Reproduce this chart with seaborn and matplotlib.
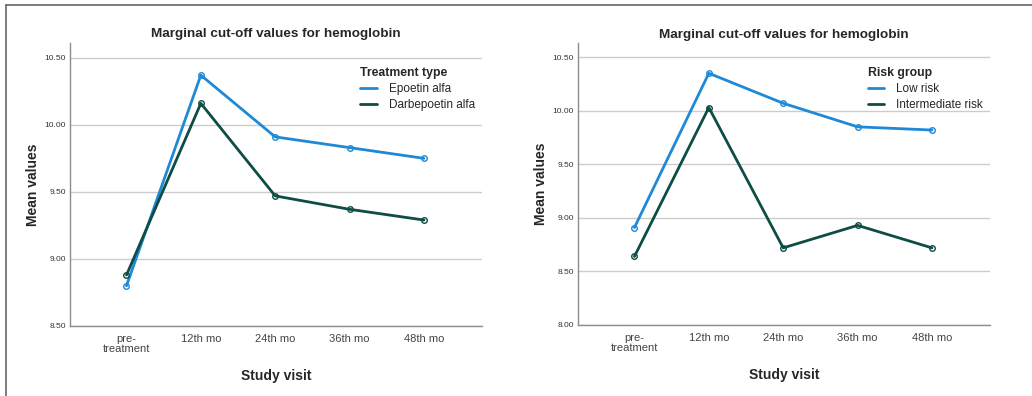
import matplotlib
matplotlib.use("Agg")
import matplotlib.pyplot as plt
import matplotlib.lines as mlines
import pandas as pd
import seaborn as sns

# data
visits = ["pre-\ntreatment", "12th mo", "24th mo", "36th mo", "48th mo"]

epoetin = [8.80, 10.37, 9.91, 9.83, 9.75]
darbepoetin = [8.88, 10.16, 9.47, 9.37, 9.29]

low_risk = [8.91, 10.35, 10.07, 9.85, 9.82]
intermediate_risk = [8.64, 10.03, 8.72, 8.93, 8.72]

blue = "#1f89d6"
teal = "#0d4d46"


def long_df(series, names):
    rows = []
    for name, vals in zip(names, series):
        for v, y in zip(visits, vals):
            rows.append({"visit": v, "value": y, "group": name})
    return pd.DataFrame(rows)


df_treat = long_df([epoetin, darbepoetin], ["Epoetin alfa", "Darbepoetin alfa"])
df_risk = long_df([low_risk, intermediate_risk], ["Low risk", "Intermediate risk"])

sns.set_style("white")
plt.rcParams["font.family"] = ["Liberation Sans", "DejaVu Sans"]

fig = plt.figure(figsize=(10.32, 3.96), dpi=100)
ax1 = fig.add_axes([0.0678, 0.1768, 0.3992, 0.7146])
ax2 = fig.add_axes([0.5600, 0.1793, 0.3993, 0.7114])

panels = [
    (ax1, df_treat, "Treatment type", ["Epoetin alfa", "Darbepoetin alfa"], (8.5, 10.61), [8.5, 9.0, 9.5, 10.0, 10.5]),
    (ax2, df_risk, "Risk group", ["Low risk", "Intermediate risk"], (8.0, 10.63), [8.0, 8.5, 9.0, 9.5, 10.0, 10.5]),
]

for ax, df, leg_title, order, ylim, yticks in panels:
    sns.lineplot(data=df, x="visit", y="value", hue="group", hue_order=order,
                 palette=[blue, teal], sort=False, linewidth=2.0,
                 marker="o", markersize=4, markerfacecolor="none",
                 markeredgewidth=1.0, ax=ax, legend=False)
    for ln, c in zip(ax.lines, [blue, teal]):
        ln.set_markeredgecolor(c)

    ax.set_xlim(-0.76, 4.78)
    ax.set_ylim(*ylim)
    ax.set_yticks(yticks)
    ax.set_yticklabels([f"{t:.2f}" for t in yticks], fontsize=6, color="#333333")
    ax.set_xticks(range(len(visits)))
    ax.set_xticklabels(visits, fontsize=8, color="#444444", linespacing=0.95)
    ax.tick_params(length=0, pad=3)
    ax.tick_params(axis="x", pad=6)

    ax.yaxis.grid(True, color="#cccccc", linewidth=1.0)
    ax.set_axisbelow(True)
    sns.despine(ax=ax)
    for side in ["left", "bottom"]:
        ax.spines[side].set_color("#8c8c8c")
        ax.spines[side].set_linewidth(1.0)

    ax.set_title("Marginal cut-off values for hemoglobin", fontsize=9.7,
                 fontweight="bold", pad=4)
    ax.set_ylabel("Mean values", fontsize=10, fontweight="bold", labelpad=3)
    ax.set_xlabel("Study visit", fontsize=10, fontweight="bold", labelpad=11)

    handles = [mlines.Line2D([], [], color=c, linewidth=2.0) for c in [blue, teal]]
    leg = ax.legend(handles, order, title=leg_title, loc="upper right",
                    bbox_to_anchor=(1.0, 0.942), frameon=False, fontsize=8.5,
                    title_fontproperties={"weight": "bold", "size": 8.8},
                    handlelength=1.4, handletextpad=1.0, labelspacing=0.35,
                    alignment="left", borderaxespad=0.2)

# frame edges of the original screenshot
fig.add_artist(mlines.Line2D([0.0058, 1.0], [0.987, 0.987], color="#666666", linewidth=1.2))
fig.add_artist(mlines.Line2D([0.0058, 0.0058], [0.0, 0.987], color="#666666", linewidth=1.2))

fig.savefig("out.png", dpi=100)
